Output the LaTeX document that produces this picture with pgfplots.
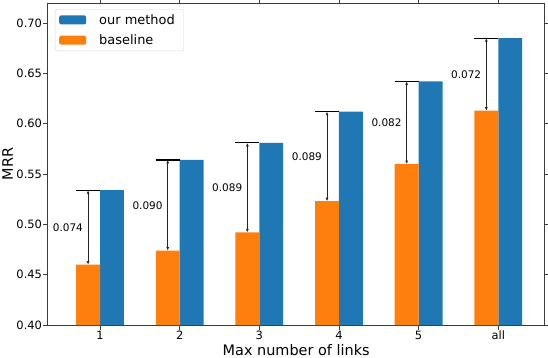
\documentclass[border=0pt]{standalone}
\usepackage{fontspec}
\setmainfont{DejaVu Sans}
\usepackage{pgfplots}
\usepackage{pgfplotstable}
\pgfplotsset{compat=1.18}
\usetikzlibrary{arrows.meta}
\definecolor{tabblue}{RGB}{31,119,180}
\definecolor{taborange}{RGB}{255,127,14}
\definecolor{spine}{RGB}{60,60,60}

% x: group position, ours / base: MRR
\pgfplotstableread{
x ours base
1 0.534 0.460
2 0.564 0.474
3 0.581 0.492
4 0.612 0.523
5 0.642 0.560
6 0.685 0.613
}\mrr

\begin{document}
\begin{tikzpicture}
\begin{axis}[scale only axis,width=497bp,height=322bp,
  xmin=0.343,xmax=6.583,ymin=0.40,ymax=0.72,
  xtick={1,2,3,4,5,6},xticklabels={1,2,3,4,5,all},
  ytick={0.40,0.45,0.50,0.55,0.60,0.65,0.70},
  yticklabel style={/pgf/number format/fixed,/pgf/number format/fixed zerofill,
    /pgf/number format/precision=2,inner sep=1bp},
  /pgf/number format/assume math mode=true,
  tick align=outside,major tick length=4.5bp,minor tick num=0,
  tick style={spine,line width=0.8bp},
  tick label style={font=\fontsize{11.5}{13}\selectfont},
  xticklabel style={inner sep=1.5bp},
  axis line style={spine,line width=0.9bp},
  xlabel={Max number of links},ylabel={MRR},
  label style={font=\fontsize{14.5}{17}\selectfont},
  xlabel style={yshift=0.5bp},
  ylabel style={yshift=-1bp},
  legend cell align=left,
  legend style={at={(0,1)},anchor=north west,xshift=7.3bp,yshift=-6bp,
    draw=black!15,rounded corners=2bp,font=\fontsize{13}{15}\selectfont,
    inner xsep=4bp,inner ysep=3bp,row sep=5bp,nodes={inner xsep=5bp}},
  legend image code/.code={\fill[#1] (0bp,-4.5bp) rectangle (27bp,4.5bp);
    \path (35bp,0bp);},
]
\addplot[ybar,bar width=0.3,bar shift=0.15,fill=tabblue,draw=none] table[x=x,y=ours]{\mrr};
\addlegendentry{our method}
\addplot[ybar,bar width=0.3,bar shift=-0.15,fill=taborange,draw=none] table[x=x,y=base]{\mrr};
\addlegendentry{baseline}

% top lines over the baseline bars
\pgfplotsset{topline/.style={black,line width=1.1bp,forget plot}}
\addplot[topline] coordinates {(0.7,0.534) (1.0,0.534)};
\addplot[topline] coordinates {(1.7,0.564) (2.0,0.564)};
\addplot[topline] coordinates {(2.7,0.581) (3.0,0.581)};
\addplot[topline] coordinates {(3.7,0.612) (4.0,0.612)};
\addplot[topline] coordinates {(4.7,0.642) (5.0,0.642)};
\addplot[topline] coordinates {(5.7,0.685) (6.0,0.685)};

% gap arrows
\pgfplotsset{gap/.style={black!85,line width=0.8bp,forget plot,
  {Latex[length=3.5bp,width=3bp]}-{Latex[length=3.5bp,width=3bp]}}}
\addplot[gap] coordinates {(0.85,0.460) (0.85,0.534)};
\addplot[gap] coordinates {(1.85,0.474) (1.85,0.564)};
\addplot[gap] coordinates {(2.85,0.492) (2.85,0.581)};
\addplot[gap] coordinates {(3.85,0.523) (3.85,0.612)};
\addplot[gap] coordinates {(4.85,0.560) (4.85,0.642)};
\addplot[gap] coordinates {(5.85,0.613) (5.85,0.685)};

\begin{scope}[every node/.style={anchor=east,inner sep=0pt,xshift=-5bp,
  font=\fontsize{10.5}{12}\selectfont}]
\node at (axis cs:0.85,0.497) {0.074};
\node at (axis cs:1.85,0.519) {0.090};
\node at (axis cs:2.85,0.5365) {0.089};
\node at (axis cs:3.85,0.5675) {0.089};
\node at (axis cs:4.85,0.601) {0.082};
\node at (axis cs:5.85,0.649) {0.072};
\end{scope}
\end{axis}
\pgfresetboundingbox
\useasboundingbox (-47.7bp,-33bp) rectangle (500.3bp,325bp);
\end{tikzpicture}
\end{document}
